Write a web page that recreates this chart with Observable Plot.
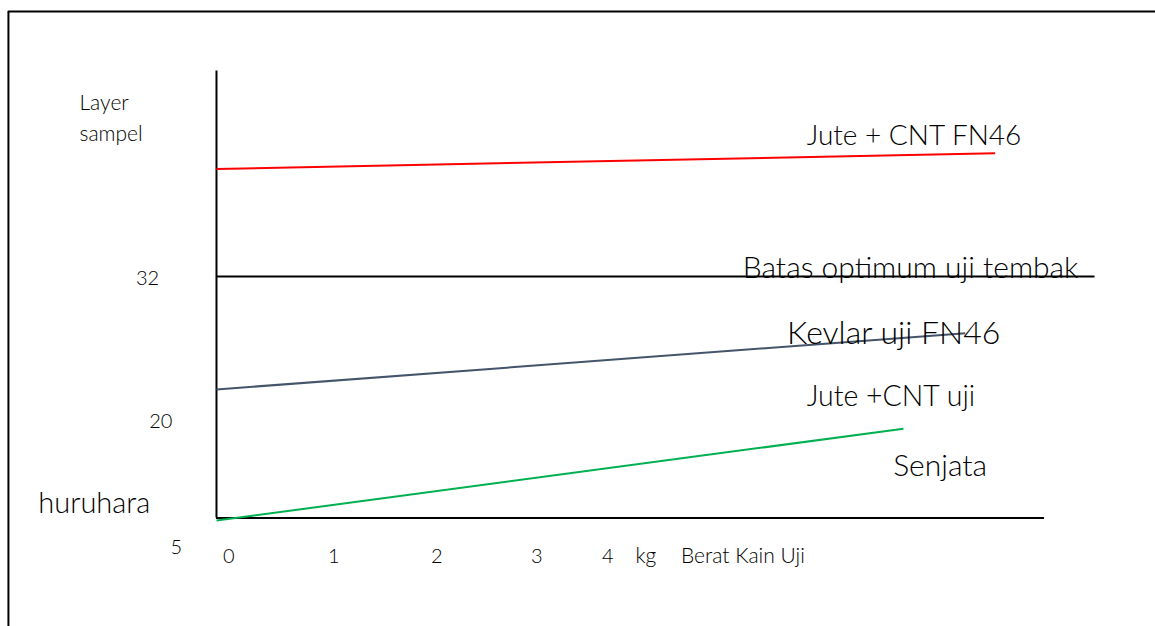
<!DOCTYPE html>
<html>
<head>
<meta charset="utf-8">
<script src="https://cdn.jsdelivr.net/npm/d3@7"></script>
<script src="https://cdn.jsdelivr.net/npm/@observablehq/plot@0.6"></script>
<style>
  html, body { margin: 0; padding: 0; background: #fff; }
  #chart svg { display: block; }
</style>
</head>
<body>
<div id="chart"></div>
<script>
// Sketch units: x in kg (Berat Kain Uji), y in layers (Layer sampel)
// Series (straight trend lines): start and end points
const seriesNames  = ["Jute + CNT FN46", "Kevlar uji FN46", "Jute +CNT uji Senjata huruhara"];
const seriesColors = ["#ff0000", "#44546a", "#00b050"];
const seriesX0 = [0, 0, 0];
const seriesY0 = [40.9, 22.65, 11.8];
const seriesX1 = [7.56, 7.27, 6.67];
const seriesY1 = [42.2, 27.3, 19.4];

// Optimum limit
const limitValue = 32;
const limitEnd = 8.53;

// Axis extents
const axisOriginX = 0;
const axisOriginY = 12;
const xAxisEnd = 8.04;
const yAxisTop = 49;

// Frame extents
const frameLeft = -2.02;
const frameTop = 53.93;
const frameRight = 9.12;
const frameBottom = 3.0;

// x tick labels
const xTickLabels = ["0", "1", "2", "3", "4"];
const xTickPos = [0.12, 1.14, 2.14, 3.11, 3.80];
const xTickRow = 8.83;

// y tick labels
const yTickLabels = ["32", "20", "5"];
const yTickX = [-0.67, -0.54, -0.39];
const yTickPos = [31.8, 20, 9.57];

// axis titles
const yTitleLines = ["Layer", "sampel"];
const yTitleX = [-1.33, -1.33];
const yTitleY = [46.3, 43.75];
const xUnit = "kg";
const xUnitX = 4.17;
const xTitle = "Berat Kain Uji";
const xTitleX = 4.51;
const xTitleY = 8.83;

// annotations
const bigTexts = ["Jute + CNT FN46", "Batas optimum uji tembak", "Kevlar uji FN46", "Jute +CNT uji", "Senjata", "huruhara"];
const bigTextX = [5.73, 5.11, 5.54, 5.73, 6.57, -1.73];
const bigTextY = [43.6, 32.66, 27.28, 22.0, 16.28, 13.2];

const seriesTable = seriesNames.map((n, i) => ({
  name: n, color: seriesColors[i],
  x1: seriesX0[i], y1: seriesY0[i], x2: seriesX1[i], y2: seriesY1[i]
}));
const xTicks = xTickLabels.map((t, i) => ({t, x: xTickPos[i], y: xTickRow}));
const yTicks = yTickLabels.map((t, i) => ({t, x: yTickX[i], y: yTickPos[i]}));
const yTitle = yTitleLines.map((t, i) => ({t, x: yTitleX[i], y: yTitleY[i]}));
const big = bigTexts.map((t, i) => ({t, x: bigTextX[i], y: bigTextY[i]}));
const bigSizes = [28, 30, 32, 28.5, 30, 29];

const FONT = "Lato, 'Noto Sans', sans-serif";

const chart = Plot.plot({
  width: 1155,
  height: 626,
  margin: 0,
  x: {domain: [-2.097, 9.117], axis: null},
  y: {domain: [3.03, 54.84], axis: null},
  style: {fontFamily: FONT, background: "#fff", color: "#000"},
  marks: [
    // frame (top and left)
    Plot.ruleY([frameTop], {x1: frameLeft, x2: frameRight, stroke: "#000", strokeWidth: 2}),
    Plot.ruleX([frameLeft], {y1: frameTop, y2: frameBottom, stroke: "#000", strokeWidth: 2}),
    // axes
    Plot.ruleX([axisOriginX], {y1: axisOriginY, y2: yAxisTop, stroke: "#000", strokeWidth: 2}),
    Plot.ruleY([axisOriginY], {x1: axisOriginX, x2: xAxisEnd, stroke: "#000", strokeWidth: 2}),
    // optimum limit
    Plot.ruleY([limitValue], {x1: 0, x2: limitEnd, stroke: "#000", strokeWidth: 2}),
    // series lines
    Plot.link(seriesTable, {x1: "x1", y1: "y1", x2: "x2", y2: "y2", stroke: "color", strokeWidth: 2}),
    // annotations
    ...big.map((d, i) => Plot.text([d], {x: "x", y: "y", text: "t", textAnchor: "start", fontSize: bigSizes[i], fill: "#000", fontWeight: 300})),
    // axis titles
    Plot.text(yTitle, {x: "x", y: "y", text: "t", textAnchor: "start", fontSize: 21, fill: "#000", fontWeight: 300}),
    Plot.text([xUnit], {x: xUnitX, y: xTitleY, text: d => d, textAnchor: "middle", fontSize: 21, fill: "#000", fontWeight: 300}),
    Plot.text([xTitle], {x: xTitleX, y: xTitleY, text: d => d, textAnchor: "start", fontSize: 21, fill: "#000", fontWeight: 300}),
    // tick labels
    Plot.text(xTicks, {x: "x", y: "y", text: "t", fontSize: 20, fill: "#000", fontWeight: 300}),
    Plot.text(yTicks, {x: "x", y: "y", text: "t", fontSize: 20, fill: "#000", fontWeight: 300})
  ]
});
document.getElementById("chart").appendChild(chart);
</script>
</body>
</html>
